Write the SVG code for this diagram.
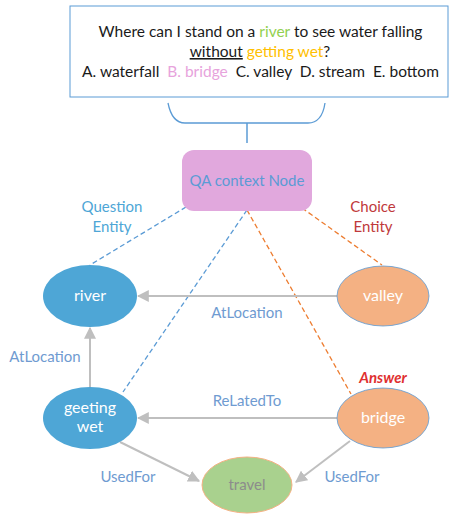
<svg xmlns="http://www.w3.org/2000/svg" width="449" height="515" viewBox="0 0 449 515">
<style>
text{font-family:Lato,"Liberation Sans",sans-serif;}
.q{font-size:15.5px;fill:#1a1a1a;text-anchor:middle;white-space:pre;}
.lbl{font-size:15px;fill:#6F9BD1;text-anchor:middle;}
.nt{font-size:16px;fill:#ffffff;text-anchor:middle;}
.edge{stroke:#BFBFBF;stroke-width:2;fill:none;}
.dashb{stroke:#5B9BD5;stroke-width:1.3;stroke-dasharray:5 3;fill:none;}
.dasho{stroke:#ED7D31;stroke-width:1.3;stroke-dasharray:5 3;fill:none;}
</style>
<defs>
<marker id="ah" viewBox="0 0 10 10" refX="9" refY="5" markerWidth="6" markerHeight="6" markerUnits="strokeWidth" orient="auto">
<path d="M0,0 L10,5 L0,10 z" fill="#BFBFBF"/>
</marker>
</defs>
<g id="question">
<rect x="70" y="6" width="378" height="91" fill="#ffffff" stroke="#5B9BD5" stroke-width="1"/>
<text class="q" x="260.5" y="37">Where can I stand on a <tspan fill="#92D050">river</tspan> to see water falling</text>
<text class="q" x="260" y="57"><tspan text-decoration="underline">without</tspan> <tspan fill="#FFC000">getting wet</tspan>?</text>
<text class="q" x="260.5" y="77" xml:space="preserve">A. waterfall  <tspan fill="#E7A3DC">B. bridge</tspan>  C. valley  D. stream  E. bottom</text>
<path d="M168,103 Q172,123 185,123 L308,123 Q322,123 325,103" fill="none" stroke="#5B9BD5" stroke-width="1.3"/>
<line x1="247" y1="123" x2="247" y2="143" stroke="#5B9BD5" stroke-width="1.5"/>
</g>
<g id="connectors">
<line class="dashb" x1="186" y1="207" x2="90" y2="265"/>
<line class="dashb" x1="247" y1="210" x2="123" y2="392"/>
<line class="dasho" x1="247" y1="210" x2="351" y2="394"/>
<line class="dasho" x1="302" y1="208" x2="382" y2="265"/>
<line class="edge" x1="337" y1="296" x2="138" y2="296" marker-end="url(#ah)"/>
<line class="edge" x1="90" y1="387" x2="90" y2="328" marker-end="url(#ah)"/>
<line class="edge" x1="337" y1="418" x2="138" y2="418" marker-end="url(#ah)"/>
<line class="edge" x1="120" y1="442" x2="199" y2="481" marker-end="url(#ah)"/>
<line class="edge" x1="350" y1="441" x2="296" y2="482" marker-end="url(#ah)"/>
<text class="lbl" x="247" y="318">AtLocation</text>
<text class="lbl" x="45" y="362">AtLocation</text>
<text class="lbl" x="247" y="406">ReLatedTo</text>
<text class="lbl" x="128" y="482">UsedFor</text>
<text class="lbl" x="352" y="482">UsedFor</text>
<text x="112" y="212" font-size="15" fill="#4EA6D6" text-anchor="middle">Question</text>
<text x="112" y="232" font-size="15" fill="#4EA6D6" text-anchor="middle">Entity</text>
<text x="373" y="212" font-size="15" fill="#C0393B" text-anchor="middle">Choice</text>
<text x="373" y="232" font-size="15" fill="#C0393B" text-anchor="middle">Entity</text>
</g>
<g id="qa-node">
<rect x="182" y="150" width="130" height="61" rx="12" fill="#E1A8DD"/>
<text x="247" y="186" font-size="15" fill="#5B9BD5" text-anchor="middle">QA context Node</text>
</g>
<g id="river">
<ellipse cx="90" cy="296" rx="47" ry="31" fill="#4EA6D6"/>
<text class="nt" x="90" y="301">river</text>
</g>
<g id="valley">
<ellipse cx="383" cy="296" rx="46" ry="30" fill="#F4B183" stroke="#5B9BD5" stroke-width="0.8"/>
<text class="nt" x="383" y="301">valley</text>
</g>
<g id="geeting-wet">
<ellipse cx="90" cy="418" rx="47" ry="31" fill="#4EA6D6"/>
<text class="nt" x="90" y="413">geeting</text>
<text class="nt" x="90" y="432">wet</text>
</g>
<g id="bridge">
<ellipse cx="383" cy="418" rx="46" ry="30" fill="#F4B183" stroke="#5B9BD5" stroke-width="0.8"/>
<text class="nt" x="383" y="423">bridge</text>
<text x="383" y="383" font-size="15" font-weight="bold" font-style="italic" fill="#E03030" text-anchor="middle">Answer</text>
</g>
<g id="travel">
<ellipse cx="247" cy="485" rx="45" ry="28" fill="#A9D18E" stroke="#F4B183" stroke-width="1"/>
<text x="247" y="490" font-size="15" fill="#8C8C8C" text-anchor="middle">travel</text>
</g>
</svg>
